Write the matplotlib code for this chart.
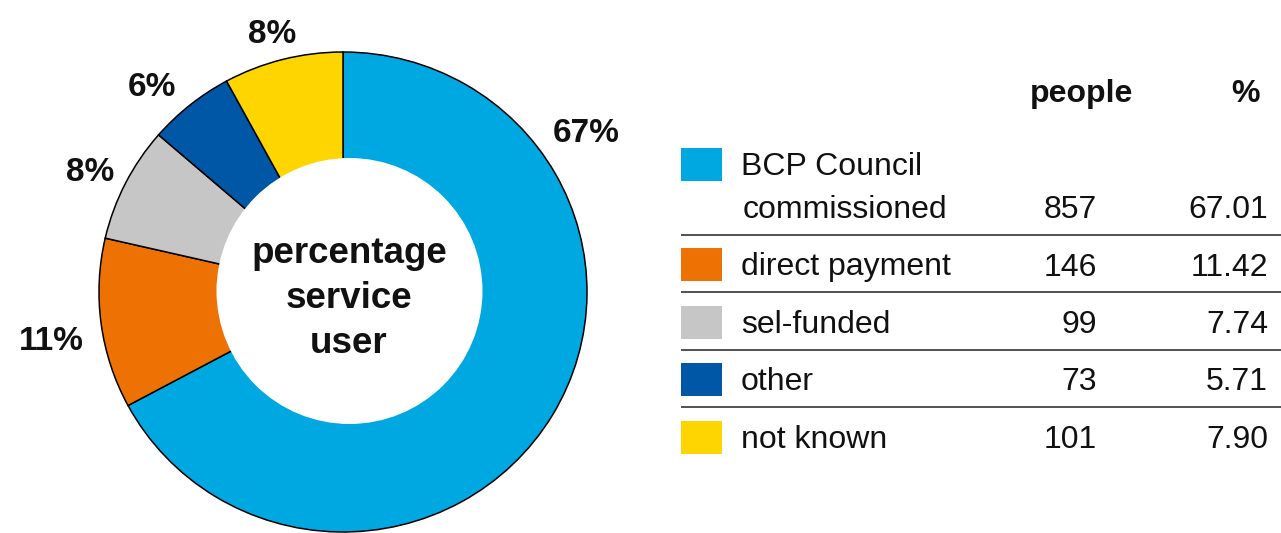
import numpy as np
import matplotlib
matplotlib.use("Agg")
import matplotlib.pyplot as plt
from matplotlib.patches import Ellipse, Rectangle

plt.rcParams["font.family"] = ["Liberation Sans", "DejaVu Sans"]

# ---- data ----
categories = ["BCP Council\ncommissioned", "direct payment", "sel-funded", "other", "not known"]
people = [857, 146, 99, 73, 101]
percent = [67.01, 11.42, 7.74, 5.71, 7.90]
pie_labels = ["67%", "11%", "8%", "6%", "8%"]
colors = ["#00A8E1", "#EE7203", "#C6C6C6", "#0057A6", "#FFD500"]
center_title = "percentage\nservice\nuser"
col_headers = ["people", "%"]

# label placement: angle nudge from wedge middle (deg) and radial distance
label_nudge = [None, 2.2, 1.2, 3.8, 1.0]
label_radius = [1.196, 1.213, 1.149, 1.158, 1.11]
big_label_angle = 33.6  # the large wedge's label sits up by the top-right rim

W, H = 1281, 533
fig = plt.figure(figsize=(W / 100, H / 100), dpi=100)

# ---- donut ----
pie_box = (99, 52, 587, 532)  # left, top, right, bottom in pixels
axp = fig.add_axes([pie_box[0] / W, (H - pie_box[3]) / H,
                    (pie_box[2] - pie_box[0]) / W, (pie_box[3] - pie_box[1]) / H])
wedges, _ = axp.pie(percent, colors=colors, startangle=90, counterclock=False,
                    radius=1.0,
                    wedgeprops=dict(edgecolor="black", linewidth=1.1))
axp.set_aspect("auto")
axp.set_xlim(-1, 1)
axp.set_ylim(-1, 1)
axp.axis("off")

# white hole in the middle
rx = (pie_box[2] - pie_box[0]) / 2
ry = (pie_box[3] - pie_box[1]) / 2
cx_px = (pie_box[0] + pie_box[2]) / 2
cy_px = (pie_box[1] + pie_box[3]) / 2
hole_px = (349.5, 291.0, 133.0)
hole = Ellipse(((hole_px[0] - cx_px) / rx, (cy_px - hole_px[1]) / ry),
               2 * hole_px[2] / rx, 2 * hole_px[2] / ry,
               facecolor="white", edgecolor="none", zorder=5)
axp.add_patch(hole)

# percentage labels around the ring
for w, lab, nudge, r in zip(wedges, pie_labels, label_nudge, label_radius):
    ang = big_label_angle if nudge is None else (w.theta1 + w.theta2) / 2 + nudge
    a = np.deg2rad(ang)
    axp.text(r * np.cos(a), r * np.sin(a), lab, ha="center", va="center",
             fontsize=24, fontweight="bold", color="#111111", clip_on=False)

# ---- overlay in pixel coordinates for the centre text and the table ----
ax = fig.add_axes([0, 0, 1, 1])
ax.set_xlim(0, W)
ax.set_ylim(H, 0)
ax.axis("off")

for k, line in enumerate(center_title.split("\n")):
    ax.text(349, 263 + 45 * k, line, ha="center", va="baseline",
            fontsize=26.5, fontweight="bold", color="#111111", zorder=10)

# table
fs = 23
sw_x0, sw_w, sw_h = 681, 41, 33
people_right, pct_right = 1097, 1268
for x, h in zip([1082, 1246], col_headers):
    ax.text(x, 102, h, ha="center", va="baseline", fontsize=fs,
            fontweight="bold", color="#111111")

row_pitch = 57.5
last_base = 218  # baseline of the (last line of the) first row
for i, (cat, n, p, c) in enumerate(zip(categories, people, percent, colors)):
    base = last_base + row_pitch * i
    lines = cat.split("\n")
    sw_center = base - 11 - 43 * (len(lines) - 1)
    ax.add_patch(Rectangle((sw_x0, sw_center - sw_h / 2), sw_w, sw_h,
                           facecolor=c, edgecolor="none"))
    for j, line in enumerate(lines):
        yb = base - 43 * (len(lines) - 1 - j)
        xo = 741 if j == 0 else 743
        ax.text(xo, yb, line, ha="left", va="baseline", fontsize=fs, color="#111111")
    ax.text(people_right, base, f"{n}", ha="right", va="baseline", fontsize=fs, color="#111111")
    ax.text(pct_right, base, f"{p:.2f}", ha="right", va="baseline", fontsize=fs, color="#111111")
    if i < len(categories) - 1:
        ly = base + 16.5
        ax.plot([681, W], [ly, ly], color="#222222", linewidth=1.1, solid_capstyle="butt")

fig.savefig("out.png", dpi=100, facecolor="white")
